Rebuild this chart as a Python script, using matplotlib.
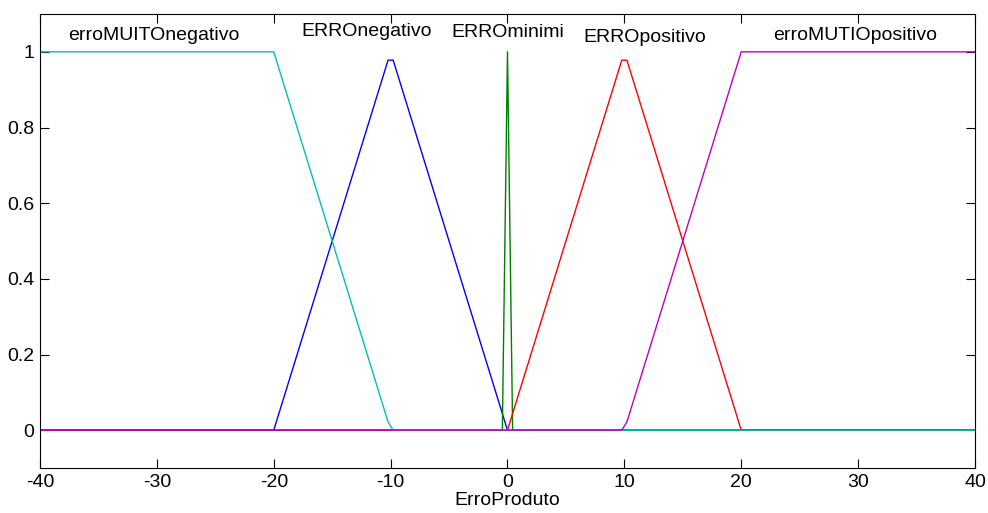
import matplotlib
matplotlib.use("Agg")
import matplotlib.pyplot as plt

# membership function breakpoints (x, membership)
neg_x = [-40, -20, -10.22, -9.78, 0, 40]
neg_y = [0, 0, 0.978, 0.978, 0, 0]

min_x = [-40, -0.44, 0, 0.44, 40]
min_y = [0, 0, 1, 0, 0]

pos_x = [-40, 0, 9.78, 10.22, 20, 40]
pos_y = [0, 0, 0.978, 0.978, 0, 0]

muito_neg_x = [-40, -20, -10.22, -9.78, 40]
muito_neg_y = [1, 1, 0.022, 0, 0]

muito_pos_x = [-40, 9.78, 10.22, 20, 40]
muito_pos_y = [0, 0, 0.022, 1, 1]

labels = ["erroMUITOnegativo", "ERROnegativo", "ERROminimi",
          "ERROpositivo", "erroMUTIOpositivo"]
label_x = [-30.3, -12.05, 0.05, 11.75, 29.75]
label_y = [1.043, 1.054, 1.050, 1.037, 1.042]

x_ticks = [-40, -30, -20, -10, 0, 10, 20, 30, 40]
y_ticks = [0, 0.2, 0.4, 0.6, 0.8, 1]
y_tick_labels = ["0", "0.2", "0.4", "0.6", "0.8", "1"]

plt.rcParams["font.family"] = ["Liberation Sans", "DejaVu Sans"]
fs = 14

fig = plt.figure(figsize=(9.88, 5.13), dpi=100)
ax = fig.add_axes([0.0405, 0.0877, 0.9463, 0.885])

lw = 1.0
ax.plot(neg_x, neg_y, color=(0, 0, 1), lw=lw)
ax.plot(min_x, min_y, color=(0, 0.5, 0), lw=lw)
ax.plot(pos_x, pos_y, color=(1, 0, 0), lw=lw)
ax.plot(muito_neg_x, muito_neg_y, color=(0, 0.75, 0.75), lw=lw)
ax.plot(muito_pos_x, muito_pos_y, color=(0.75, 0, 0.75), lw=lw)

for name, tx, ty in zip(labels, label_x, label_y):
    ax.text(tx, ty, name, ha="center", va="center", fontsize=fs)

ax.set_xlim(-40, 40)
ax.set_ylim(-0.1, 1.1)
ax.set_xticks(x_ticks)
ax.set_xticklabels([str(t) for t in x_ticks])
ax.set_yticks(y_ticks)
ax.set_yticklabels(y_tick_labels)
ax.tick_params(direction="in", length=6.5, width=0.8, top=True, right=True,
               labelsize=fs, pad=4)
for sp in ax.spines.values():
    sp.set_linewidth(0.8)
ax.set_xlabel("ErroProduto", fontsize=fs, labelpad=1)

fig.savefig("out.png", dpi=100)
